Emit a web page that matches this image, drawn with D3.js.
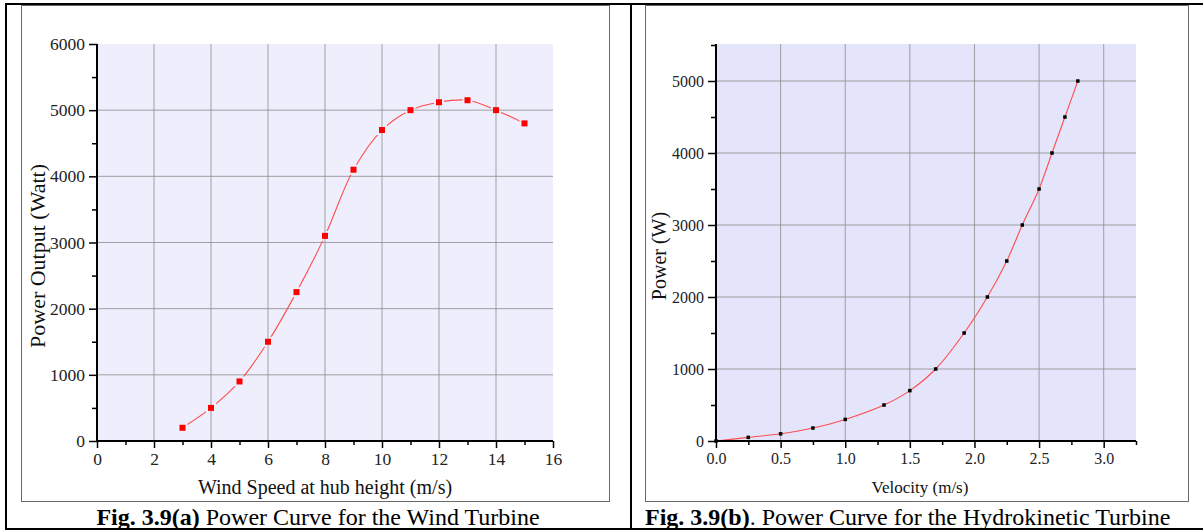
<!DOCTYPE html>
<html>
<head>
<meta charset="utf-8">
<script src="https://cdn.jsdelivr.net/npm/d3@7"></script>
<style>
  body { margin: 0; background: #fff; }
  svg { display: block; font-family: "Liberation Serif", "Times New Roman", serif; }
  svg text { font-family: "Liberation Serif", "Times New Roman", serif !important; }
  .tick text { fill: #222; }
</style>
</head>
<body>
<svg id="fig" width="1203" height="531"></svg>
<script>
// wind turbine power curve (a)
var windSpeed = [3, 4, 5, 6, 7, 8, 9, 10, 11, 12, 13, 14, 15];
var windPower = [200, 500, 900, 1500, 2250, 3100, 4100, 4700, 5000, 5120, 5150, 5000, 4800];
var windXTicks = [0, 2, 4, 6, 8, 10, 12, 14, 16];
var windYTicks = [0, 1000, 2000, 3000, 4000, 5000, 6000];

// hydrokinetic turbine power curve (b)
var velocity = [0, 0.25, 0.5, 0.75, 1.0, 1.3, 1.5, 1.7, 1.92, 2.1, 2.25, 2.37, 2.5, 2.6, 2.7, 2.8];
var hydroPower = [0, 50, 100, 180, 300, 500, 700, 1000, 1500, 2000, 2500, 3000, 3500, 4000, 4500, 5000];
var hydroXTicks = [0, 0.5, 1.0, 1.5, 2.0, 2.5, 3.0];
var hydroYTicks = [0, 1000, 2000, 3000, 4000, 5000];

var svg = d3.select("#fig");

/////////////////////////////////////
///      FRAME
/////////////////////////////////////
svg.append("line").attr("x1", 5).attr("x2", 1203).attr("y1", 4).attr("y2", 4)
   .attr("stroke", "#000").attr("stroke-width", 2);
svg.append("line").attr("x1", 5).attr("x2", 1203).attr("y1", 529).attr("y2", 529)
   .attr("stroke", "#000").attr("stroke-width", 2);
svg.append("line").attr("x1", 6).attr("x2", 6).attr("y1", 3).attr("y2", 530)
   .attr("stroke", "#000").attr("stroke-width", 2);
svg.append("line").attr("x1", 631).attr("x2", 631).attr("y1", 3).attr("y2", 530)
   .attr("stroke", "#000").attr("stroke-width", 2);

function makeChart(opt){
  var g = svg.append("g");
  g.append("rect").attr("x", opt.box[0] + 0.5).attr("y", opt.box[1] + 0.5)
   .attr("width", opt.box[2] - opt.box[0]).attr("height", opt.box[3] - opt.box[1])
   .attr("fill", "#fff").attr("stroke", "#6a6a6a").attr("stroke-width", 1);

  var x = d3.scaleLinear().domain(opt.xDomain).range([opt.left, opt.right]);
  var y = d3.scaleLinear().domain(opt.yDomain).range([opt.bottom, opt.top]);

  g.append("rect").attr("x", opt.left).attr("y", opt.top)
   .attr("width", opt.right - opt.left).attr("height", opt.bottom - opt.top)
   .attr("fill", opt.bg);

  // grid
  g.selectAll(".vgrid").data(opt.xGrid).enter().append("line")
   .attr("x1", d => x(d)).attr("x2", d => x(d))
   .attr("y1", opt.top).attr("y2", opt.bottom)
   .attr("stroke", "#8c8c8c").attr("stroke-opacity", 0.8).attr("stroke-width", 1);
  g.selectAll(".hgrid").data(opt.yGrid).enter().append("line")
   .attr("x1", opt.left).attr("x2", opt.right)
   .attr("y1", d => y(d)).attr("y2", d => y(d))
   .attr("stroke", "#8c8c8c").attr("stroke-opacity", 0.8).attr("stroke-width", 1);

  // curve
  var line = d3.line().x((d, i) => x(opt.xs[i])).y(d => y(d))
     .curve(d3.curveCatmullRom.alpha(0.5));
  var path = g.append("path").datum(opt.ys).attr("d", line)
     .attr("fill", "none").attr("stroke", "#ff4d4d").attr("stroke-width", 1.1);

  if (opt.gap){
    var mid = opt.id + "-mask";
    var mask = g.append("mask").attr("id", mid).attr("maskUnits", "userSpaceOnUse");
    mask.append("rect").attr("x", 0).attr("y", 0).attr("width", 1203).attr("height", 531).attr("fill", "#fff");
    mask.selectAll("rect.m").data(opt.ys).enter().append("rect")
       .attr("x", (d, i) => x(opt.xs[i]) - opt.gap).attr("y", d => y(d) - opt.gap)
       .attr("width", opt.gap * 2).attr("height", opt.gap * 2).attr("fill", "#000");
    path.attr("mask", "url(#" + mid + ")");
  }

  g.selectAll(".pt").data(opt.ys).enter().append("rect")
   .attr("x", (d, i) => x(opt.xs[i]) - opt.ms / 2).attr("y", d => y(d) - opt.ms / 2)
   .attr("width", opt.ms).attr("height", opt.ms)
   .attr("fill", opt.mc);

  // axes
  var xMinor = g.append("g").attr("transform", "translate(0," + opt.bottom + ")")
     .call(d3.axisBottom(x).tickValues(opt.xMinor).tickSize(4).tickFormat(""));
  var xMajor = g.append("g").attr("transform", "translate(0," + opt.bottom + ")")
     .call(d3.axisBottom(x).tickValues(opt.xTicks).tickSize(7).tickPadding(5).tickFormat(opt.xFmt));
  var yMinor = g.append("g").attr("transform", "translate(" + opt.left + ",0)")
     .call(d3.axisLeft(y).tickValues(opt.yMinor).tickSize(5).tickFormat(""));
  var yMajor = g.append("g").attr("transform", "translate(" + opt.left + ",0)")
     .call(d3.axisLeft(y).tickValues(opt.yTicks).tickSize(8).tickPadding(4).tickFormat(d3.format("d")));

  [xMinor, xMajor, yMinor, yMajor].forEach(function(a){
    a.attr("font-family", null).attr("font-size", null);
    a.select(".domain").attr("stroke", "#000").attr("stroke-width", 2);
    a.selectAll(".tick line").attr("stroke", "#000").attr("stroke-width", 1.5);
    a.selectAll(".tick text").style("font-size", opt.tickFs + "px");
  });
  xMajor.selectAll(".domain").attr("d", "M" + opt.left + ",0H" + opt.right);
  yMajor.selectAll(".domain").attr("d", "M0," + opt.bottom + "V" + opt.top);
  xMinor.select(".domain").remove();
  yMinor.select(".domain").remove();

  g.append("text").attr("x", opt.xLabelPos[0]).attr("y", opt.xLabelPos[1])
   .attr("text-anchor", "middle").style("font-size", opt.labelFs + "px").attr("fill", "#111")
   .text(opt.xLabel);
  g.append("text")
   .attr("transform", "translate(" + opt.yLabelPos[0] + "," + opt.yLabelPos[1] + ") rotate(-90)")
   .attr("text-anchor", "middle").style("font-size", opt.yLabelFs + "px").attr("fill", "#111")
   .text(opt.yLabel);
}

makeChart({
  id: "wind",
  box: [21, 5, 609, 501],
  left: 97, right: 553, top: 44, bottom: 441,
  xDomain: [0, 16], yDomain: [0, 6000],
  bg: "#eeeefc",
  xs: windSpeed, ys: windPower,
  xTicks: windXTicks, yTicks: windYTicks,
  xMinor: [1, 3, 5, 7, 9, 11, 13, 15],
  yMinor: [500, 1500, 2500, 3500, 4500, 5500],
  xGrid: windXTicks.slice(1, -1), yGrid: windYTicks.slice(1, -1),
  xFmt: d3.format("d"),
  ms: 6, mc: "#ff0000", gap: 5,
  tickFs: 17.5, labelFs: 20, yLabelFs: 22,
  xLabel: "Wind Speed at hub height (m/s)", xLabelPos: [325, 494],
  yLabel: "Power Output (Watt)", yLabelPos: [45, 256]
});

makeChart({
  id: "hydro",
  box: [645, 5, 1188, 501],
  left: 716, right: 1136, top: 44, bottom: 441,
  xDomain: [0, 3.25], yDomain: [0, 5514],
  bg: "#e4e4fa",
  xs: velocity, ys: hydroPower,
  xTicks: hydroXTicks, yTicks: hydroYTicks,
  xMinor: [0.25, 0.75, 1.25, 1.75, 2.25, 2.75, 3.25],
  yMinor: [500, 1500, 2500, 3500, 4500, 5500],
  xGrid: hydroXTicks.slice(1), yGrid: hydroYTicks.slice(1),
  xFmt: d3.format(".1f"),
  ms: 3.5, mc: "#000", gap: 0,
  tickFs: 16, labelFs: 17, yLabelFs: 20,
  xLabel: "Velocity (m/s)", xLabelPos: [920, 493],
  yLabel: "Power (W)", yLabelPos: [666, 256]
});

/////////////////////////////////////
///      CAPTIONS
/////////////////////////////////////
var capA = svg.append("text").attr("x", 318).attr("y", 525).attr("text-anchor", "middle")
   .style("font-size", "24px").attr("fill", "#000");
capA.append("tspan").attr("font-weight", "bold").text("Fig. 3.9(a)");
capA.append("tspan").text(" Power Curve for the Wind Turbine");

var capB = svg.append("text").attr("x", 645).attr("y", 525)
   .style("font-size", "24px").attr("fill", "#000");
capB.append("tspan").attr("font-weight", "bold").text("Fig. 3.9(b)");
capB.append("tspan").text(". Power Curve for the Hydrokinetic Turbine");
</script>
</body>
</html>
